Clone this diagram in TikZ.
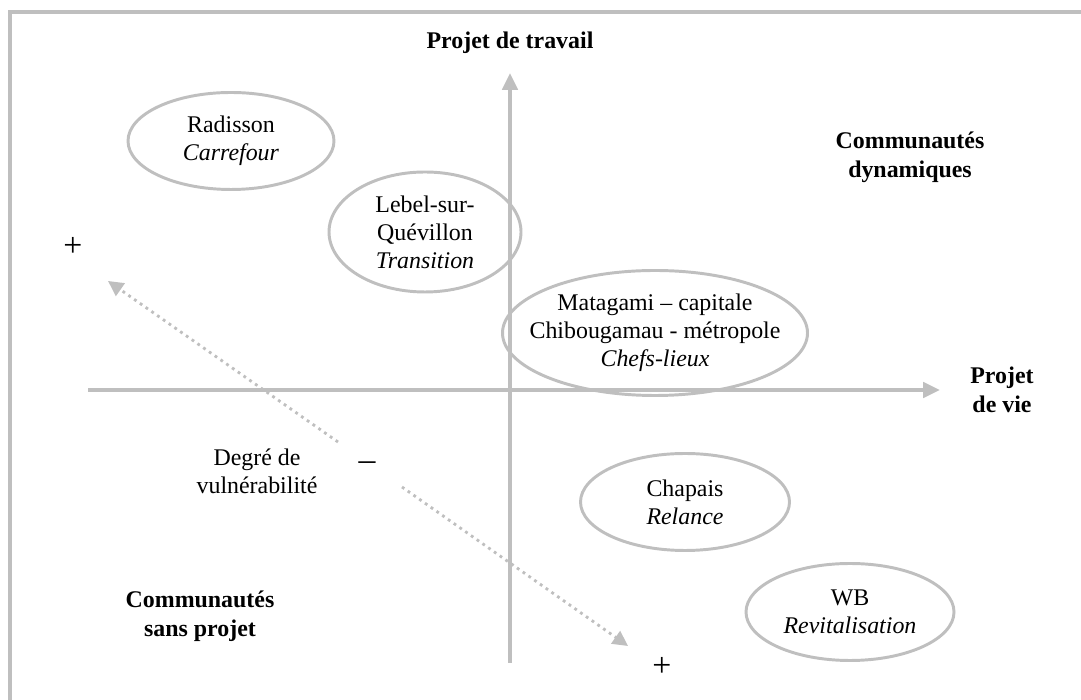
\documentclass[tikz,border=0pt]{standalone}
\usepackage{fontspec}
\setmainfont{Liberation Serif}
\usetikzlibrary{arrows.meta,shapes.geometric,positioning}
\definecolor{axisgray}{RGB}{191,191,191}

\begin{document}
\begin{tikzpicture}[
  font=\fontsize{17pt}{20pt}\selectfont,
  ell/.style={draw=axisgray,line width=2.1pt,ellipse,inner sep=0pt},
  txt/.style={align=center,inner sep=0pt},
  sign/.style={inner sep=0pt,font=\fontsize{24pt}{24pt}\selectfont},
  ttl/.style={align=center,inner sep=0pt,
              font=\fontsize{17pt}{20.5pt}\selectfont\bfseries},
  axisarr/.style={line width=2.6pt,draw=axisgray,
                  -{Triangle[length=0.42cm,width=0.38cm]}},
  dotarr/.style={line width=2pt,draw=axisgray,
                 dash pattern=on 2pt off 3pt,
                 -{Triangle[length=0.38cm,width=0.38cm]}}]
\useasboundingbox (0,0) rectangle (27.025,17.5);
% frame, cut at right and bottom
\draw[axisgray,line width=2.4pt] (0.25,0) -- (0.25,17.2) -- (27.025,17.2);
% axes
\coordinate (hstart) at (2.2,7.75);
\coordinate (hend)   at (23.5,7.75);
\coordinate (vstart) at (12.75,0.925);
\coordinate (vend)   at (12.75,15.675);
\draw[axisarr](hstart)--(hend);
\draw[axisarr](vstart)--(vend);
% communities
\node[ell,minimum width=5.15cm,minimum height=2.425cm](rad) at (5.775,13.975) {};
\node[txt](radtxt) at (rad) {Radisson\\\textit{Carrefour}};
\node[ell,minimum width=4.8cm,minimum height=3.0cm](leb) at (10.625,11.7) {};
\node[txt](lebtxt) at (leb) {Lebel-sur-\\Quévillon\\\textit{Transition}};
\node[ell,minimum width=7.625cm,minimum height=3.125cm](mat) at (16.375,9.175) {};
\node[txt](mattxt) at (mat) {Matagami – capitale\\Chibougamau - métropole\\\textit{Chefs-lieux}};
\node[ell,minimum width=5.225cm,minimum height=2.425cm](cha) at (17.125,4.95) {};
\node[txt](chatxt) at (cha) {Chapais\\\textit{Relance}};
\node[ell,minimum width=5.2cm,minimum height=2.425cm](wb) at (21.25,2.2) {};
\node[txt](wbtxt) at (wb) {WB\\\textit{Revitalisation}};
% titles
\node[ttl](trav) at (12.75,16.425) {Projet de travail};
\node[ttl](vie)  at (25.05,7.75)   {Projet\\de vie};
\node[ttl](dyn)  at (22.75,13.575) {Communautés\\dynamiques};
\node[ttl](sans) at (5.0,2.1)      {Communautés\\sans projet};
% vulnerability
\node[txt](degre) at (6.425,5.7125) {Degré de\\vulnérabilité};
\node[sign](plusA) at (1.825,11.325) {+};
\node[sign](plusB) at (16.55,0.825)  {+};
\node[sign](moins) at (9.175,5.85)   {–};
\coordinate (dA1) at (8.45,6.45);
\coordinate (dA2) at (2.7,10.475);
\coordinate (dB1) at (10.05,5.325);
\coordinate (dB2) at (15.7,1.35);
\draw[dotarr](dA1)--(dA2);
\draw[dotarr](dB1)--(dB2);
\end{tikzpicture}
\end{document}
